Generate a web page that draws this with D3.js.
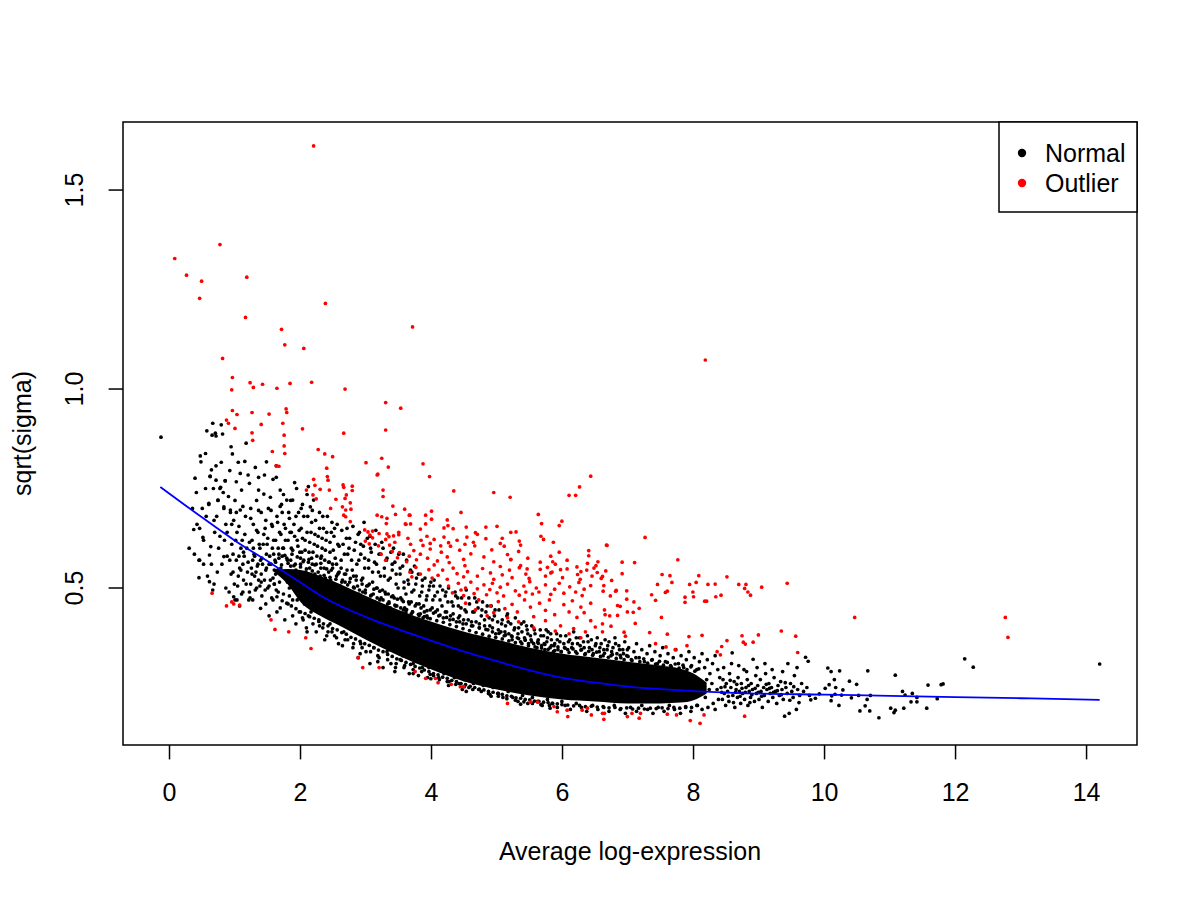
<!DOCTYPE html>
<html>
<head>
<meta charset="utf-8">
<title>sqrt(sigma) vs average log-expression</title>
<script src="https://cdn.jsdelivr.net/npm/d3@7"></script>
<style>
  body{ margin:0; background:#fff; }
  svg text{ font-family:"Liberation Sans", Arial, Helvetica, sans-serif; fill:#000; }
</style>
</head>
<body>
<svg id="chart" width="1200" height="900"></svg>
<script>
// ---- data ----
var xTicks = [0, 2, 4, 6, 8, 10, 12, 14];
var yTicks = [0.5, 1.0, 1.5];
var yTickLabels = ["0.5", "1.0", "1.5"];
var legendLabels = ["Normal", "Outlier"];

// fitted trend (blue)
var trendX = [-0.14, 0.5, 1.0, 1.5, 2.0, 2.35, 3.0, 3.5, 3.88, 4.5, 5.0, 5.5, 6.0, 6.5, 7.0, 7.5, 8.0, 8.72, 10.0, 11.0, 12.0, 13.0, 14.2];
var trendY = [0.754, 0.677, 0.619, 0.567, 0.514, 0.477, 0.427, 0.396, 0.374, 0.340, 0.316, 0.293, 0.274, 0.262, 0.252, 0.246, 0.241, 0.236, 0.232, 0.229, 0.226, 0.223, 0.219];

// envelope of the solid black core of the cloud
var coreX  = [1.6, 1.8, 2.0, 2.3, 2.6, 3.0, 3.5, 4.0, 4.5, 5.0, 5.5, 6.0, 6.5, 7.0, 7.5, 7.8, 8.0, 8.2];
var coreHi = [0.545, 0.548, 0.545, 0.53, 0.51, 0.48, 0.445, 0.415, 0.39, 0.37, 0.35, 0.335, 0.325, 0.315, 0.305, 0.297, 0.285, 0.262];
var coreLo = [0.54, 0.51, 0.465, 0.43, 0.405, 0.37, 0.33, 0.295, 0.265, 0.245, 0.23, 0.22, 0.215, 0.21, 0.21, 0.212, 0.218, 0.235];

// normal genes (black) around the core
var normalLeft = [[-0.13,0.879],[0.38,0.585],[0.42,0.66],[0.45,0.57],[0.47,0.832],[0.48,0.817],[0.50,0.70],[0.52,0.62],[0.55,0.838],[0.55,0.75],[0.57,0.895],[0.58,0.53],[0.60,0.71],[0.61,0.516],[0.62,0.78],[0.64,0.797],[0.65,0.884],[0.66,0.914],[0.66,0.495],[0.67,0.75],[0.68,0.51],[0.69,0.64],[0.70,0.889],[0.71,0.807],[0.71,0.882],[0.72,0.68],[0.74,0.72],[0.75,0.60],[0.77,0.75],[0.79,0.816],[0.79,0.91],[0.80,0.56],[0.81,0.887],[0.82,0.74],[0.83,0.70],[0.84,0.62],[0.85,0.77],[0.86,0.66],[0.88,0.58],[0.90,0.73],[0.92,0.795],[0.93,0.69],[0.94,0.855],[0.95,0.61],[0.96,0.837],[0.97,0.54],[0.98,0.67],[1.00,0.72],[1.02,0.767],[1.03,0.64],[1.05,0.816],[1.06,0.58],[1.08,0.788],[1.08,0.696],[1.10,0.746],[1.11,0.62],[1.13,0.52],[1.15,0.818],[1.16,0.68],[1.17,0.864],[1.18,0.60],[1.20,0.784],[1.21,0.47],[0.37,0.647],[0.46,0.650],[0.51,0.627],[0.63,0.604],[0.61,0.583],[0.83,0.579],[1.03,0.47],[0.98,0.478],[0.45,0.526],[0.52,0.56],[0.46,0.57],[0.39,0.776],[0.62,0.781],[0.71,0.771],[0.85,0.769],[0.60,0.713],[0.83,0.704],[0.93,0.696],[0.74,0.721],[0.78,0.753],[0.68,0.67],[0.56,0.68],[0.88,0.64],[0.77,0.63],[0.64,0.56],[0.73,0.54],[0.92,0.57],[1.07,0.55],[1.12,0.49],[0.99,0.51],[0.86,0.50],[0.30,0.60],[0.35,0.70],[0.41,0.74],[1.05,0.53],[1.12,0.56],[1.19,0.54],[1.24,0.51],[1.30,0.53],[1.35,0.56],[1.09,0.60],[1.14,0.58],[1.02,0.57],[1.27,0.57],[1.40,0.535],[1.45,0.52],[1.38,0.505],[1.48,0.55]];

var normalUpper = [[1.22,0.763],[1.24,0.70],[1.26,0.62],[1.28,0.66],[1.30,0.58],[1.31,0.803],[1.33,0.72],[1.35,0.64],[1.36,0.778],[1.36,0.746],[1.38,0.60],[1.40,0.69],[1.42,0.56],[1.44,0.736],[1.45,0.784],[1.46,0.65],[1.48,0.817],[1.49,0.61],[1.51,0.70],[1.53,0.58],[1.54,0.728],[1.56,0.66],[1.58,0.773],[1.59,0.62],[1.61,0.57],[1.63,0.778],[1.63,0.807],[1.64,0.68],[1.66,0.60],[1.68,0.64],[1.69,0.746],[1.71,0.71],[1.72,0.58],[1.74,0.735],[1.75,0.66],[1.77,0.62],[1.79,0.721],[1.80,0.57],[1.82,0.69],[1.84,0.64],[1.86,0.60],[1.88,0.721],[1.90,0.66],[1.92,0.56],[1.94,0.75],[1.95,0.62],[1.97,0.69],[1.99,0.59],[2.01,0.65],[2.03,0.71],[2.05,0.57],[2.07,0.62],[2.10,0.735],[2.11,0.68],[2.13,0.59],[2.15,0.704],[2.16,0.64],[2.18,0.56],[2.20,0.721],[2.21,0.61],[2.23,0.67],[2.25,0.58],[2.27,0.63],[2.29,0.69],[2.31,0.55],[2.33,0.60],[2.35,0.65],[2.37,0.57],[2.39,0.62],[2.41,0.68],[2.43,0.54],[2.45,0.59],[2.47,0.64],[2.49,0.56],
[1.25,0.55],[1.32,0.54],[1.39,0.57],[1.47,0.545],[1.55,0.56],[1.62,0.535],[1.70,0.55],[1.78,0.54],[1.85,0.555],[1.93,0.545],[2.00,0.56],[2.08,0.54],[2.14,0.55],[2.22,0.535],[2.30,0.53],[2.38,0.525],[2.46,0.52],[1.28,0.60],[1.43,0.61],[1.57,0.60],[1.73,0.60],[1.87,0.585],[2.02,0.59],[2.17,0.575],[2.32,0.58],[2.44,0.565],
[2.51,0.63],[2.53,0.575],[2.56,0.66],[2.57,0.535],[2.59,0.605],[2.62,0.55],[2.63,0.645],[2.64,0.52],[2.67,0.585],[2.70,0.625],[2.71,0.545],[2.74,0.60],[2.75,0.515],[2.78,0.57],[2.80,0.655],[2.81,0.53],[2.84,0.615],[2.86,0.56],[2.87,0.505],[2.90,0.64],[2.92,0.585],[2.93,0.52],[2.96,0.605],[2.98,0.55],[2.99,0.495],[3.02,0.625],[3.04,0.57],[3.05,0.51],[3.08,0.59],[3.10,0.54],[3.11,0.485],[3.14,0.61],[3.16,0.56],[3.17,0.50],[3.20,0.585],[3.22,0.53],[3.23,0.475],[3.26,0.60],[3.28,0.55],[3.29,0.49],[3.32,0.575],[3.34,0.52],[3.35,0.465],[3.38,0.59],[3.40,0.545],[3.41,0.48],[3.44,0.565],[3.46,0.51],[3.47,0.455],[3.50,0.585],[3.52,0.535],[3.53,0.475],[3.56,0.555],[3.58,0.50],[3.59,0.45],[3.62,0.57],[3.64,0.52],[3.65,0.465],[3.68,0.545],[3.70,0.49],[3.71,0.44],[3.74,0.555],[3.76,0.51],[3.77,0.46],[3.80,0.535],[3.82,0.48],[3.83,0.435],[3.86,0.505],[3.88,0.455],[3.90,0.525],[3.92,0.47],[3.93,0.43],[3.96,0.495],[3.98,0.445],[3.99,0.515],
[2.55,0.53],[2.68,0.515],[2.82,0.50],[2.95,0.49],[3.07,0.48],[3.21,0.47],[3.33,0.46],[3.45,0.455],[3.57,0.445],[3.69,0.435],[3.81,0.43],[3.94,0.425],[2.61,0.505],[2.89,0.485],[3.13,0.465],[3.37,0.45],[3.61,0.44],[3.87,0.425],
[4.02,0.47],[4.04,0.52],[4.06,0.44],[4.09,0.49],[4.11,0.43],[4.13,0.505],[4.16,0.455],[4.18,0.425],[4.21,0.48],[4.23,0.44],[4.26,0.50],[4.28,0.42],[4.31,0.465],[4.33,0.435],[4.36,0.49],[4.38,0.415],[4.41,0.455],[4.43,0.43],[4.46,0.475],[4.48,0.41],[4.51,0.445],[4.53,0.495],[4.56,0.42],[4.58,0.46],[4.61,0.405],[4.63,0.44],[4.66,0.475],[4.68,0.415],[4.71,0.45],[4.73,0.40],[4.76,0.43],[4.78,0.465],[4.81,0.405],[4.83,0.44],[4.86,0.395],[4.88,0.425],[4.91,0.455],[4.93,0.40],[4.96,0.43],[4.98,0.385],[5.01,0.415],[5.03,0.445],[5.06,0.39],[5.08,0.42],[5.11,0.38],[5.13,0.405],[5.16,0.435],[5.18,0.385],[5.21,0.41],[5.23,0.37],[5.26,0.395],[5.28,0.425],[5.31,0.375],[5.33,0.40],[5.36,0.365],[5.38,0.39],[5.41,0.415],[5.43,0.37],[5.46,0.395],[5.48,0.36],[5.51,0.38],[5.53,0.405],[5.56,0.36],[5.58,0.385],[5.61,0.35],[5.63,0.37],[5.66,0.395],[5.68,0.355],[5.71,0.38],[5.73,0.345],[5.76,0.365],[5.78,0.39],[5.81,0.35],[5.83,0.37],[5.86,0.34],[5.88,0.36],[5.91,0.385],[5.93,0.345],[5.96,0.365],[5.98,0.34],
[6.02,0.36],[6.05,0.38],[6.08,0.345],[6.11,0.37],[6.14,0.35],[6.17,0.39],[6.20,0.34],[6.23,0.36],[6.26,0.375],[6.29,0.345],[6.32,0.365],[6.35,0.335],[6.38,0.38],[6.41,0.35],[6.44,0.37],[6.47,0.335],[6.50,0.355],[6.53,0.375],[6.56,0.34],[6.59,0.36],[6.62,0.33],[6.65,0.37],[6.68,0.345],[6.71,0.365],[6.74,0.33],[6.77,0.35],[6.80,0.375],[6.83,0.335],[6.86,0.355],[6.89,0.325],[6.92,0.345],[6.95,0.365],[6.98,0.33],[7.01,0.35],[7.05,0.32],[7.09,0.34],[7.13,0.36],[7.17,0.325],[7.21,0.345],[7.25,0.315],[7.29,0.335],[7.33,0.355],[7.37,0.32],[7.41,0.34],[7.45,0.31],[7.49,0.33],[7.53,0.35],[7.57,0.315],[7.61,0.335],[7.65,0.305],[7.69,0.325],[7.73,0.345],[7.77,0.31],[7.81,0.33],[7.85,0.30],[7.89,0.32],[7.93,0.34],[7.97,0.305],[8.01,0.325],[8.05,0.295],[8.09,0.315],[8.13,0.335],[8.17,0.30],[8.21,0.32],[8.25,0.285],[8.29,0.31],[8.33,0.33],[8.37,0.295],[8.40,0.275]];

// extra black points filling the densest speckled zones
var normalFill = [[0.91,0.49],[0.94,0.535],[0.97,0.585],[1.00,0.47],[1.01,0.62],[1.04,0.505],[1.06,0.655],[1.09,0.545],[1.10,0.485],[1.13,0.59],[1.15,0.635],[1.17,0.51],[1.20,0.565],[1.22,0.615],[1.23,0.475],[1.26,0.535],[1.29,0.585],[1.31,0.495],[1.33,0.645],[1.34,0.555],[1.37,0.61],[1.40,0.515],[1.41,0.575],[1.44,0.635],[1.46,0.495],[1.48,0.585],[1.50,0.625],[1.52,0.56],[1.54,0.52],[1.57,0.655],[1.59,0.585],[1.60,0.545],[0.95,0.66],[1.02,0.69],[1.12,0.705],[1.24,0.675],[1.36,0.695],[1.47,0.67],[1.55,0.695],[1.07,0.455],
[1.52,0.505],[1.58,0.525],[1.63,0.495],[1.68,0.515],[1.74,0.485],[1.77,0.53],[1.83,0.50],[1.88,0.47],[1.91,0.515],[1.56,0.475],[1.71,0.54],[1.86,0.53],[1.65,0.545],[1.80,0.515],[1.95,0.50],[1.60,0.51],
[1.62,0.62],[1.65,0.665],[1.67,0.585],[1.70,0.635],[1.72,0.69],[1.74,0.60],[1.77,0.65],[1.79,0.575],[1.81,0.62],[1.83,0.675],[1.86,0.64],[1.88,0.595],[1.91,0.63],[1.93,0.68],[1.96,0.605],[1.98,0.645],[2.00,0.575],[2.03,0.625],[2.05,0.68],[2.07,0.595],[2.10,0.64],[2.12,0.565],[2.14,0.615],[2.17,0.665],[2.19,0.59],[2.22,0.635],[2.24,0.56],[2.26,0.605],[2.29,0.65],[2.31,0.575],[2.33,0.625],[2.36,0.55],[2.38,0.595],[2.40,0.64],[2.43,0.565],[2.45,0.615],[2.47,0.545],[2.50,0.595],[2.52,0.65],[2.55,0.56],[2.57,0.61],[2.59,0.54],[1.69,0.705],[1.85,0.72],[2.01,0.70],[2.18,0.695],[2.34,0.68],[2.48,0.665],[1.91,0.765],[2.12,0.755],
[2.62,0.57],[2.65,0.61],[2.69,0.535],[2.72,0.585],[2.75,0.625],[2.79,0.545],[2.82,0.595],[2.85,0.53],[2.89,0.57],[2.92,0.61],[2.95,0.525],[2.98,0.575],[3.01,0.505],[3.04,0.55],[3.07,0.60],[3.10,0.515],[3.13,0.565],[3.16,0.50],[3.19,0.54],[3.22,0.585],[3.25,0.495],[3.28,0.53],[3.31,0.57],[3.34,0.485],[3.37,0.525],[3.40,0.56],[3.43,0.475],[3.46,0.535],[3.49,0.50],[3.52,0.55],[3.55,0.47],[3.58,0.515],[2.71,0.65],[2.88,0.635],[3.06,0.63],[3.24,0.615],[3.42,0.60],[3.57,0.585],[2.97,0.665],[3.15,0.645],
[3.61,0.485],[3.65,0.51],[3.69,0.465],[3.73,0.495],[3.77,0.525],[3.81,0.46],[3.85,0.49],[3.89,0.44],[3.93,0.48],[3.97,0.505],[4.01,0.45],[4.05,0.48],[4.09,0.445],[4.13,0.47],[4.17,0.495],[4.21,0.44],[4.25,0.465],[4.29,0.43],[4.33,0.455],[4.37,0.48],[4.41,0.425],[4.45,0.45],[4.49,0.42],[4.53,0.44],[4.57,0.475],[4.61,0.415],[4.65,0.44],[4.69,0.465],[4.73,0.41],[4.77,0.445],[4.81,0.42],[4.85,0.455],[4.89,0.405],[4.93,0.42],[4.97,0.445],[3.70,0.54],[3.86,0.52],[4.03,0.505],[4.22,0.49],[4.40,0.475],
[5.02,0.395],[5.07,0.41],[5.12,0.39],[5.17,0.415],[5.22,0.38],[5.27,0.40],[5.32,0.385],[5.37,0.41],[5.42,0.375],[5.47,0.385],[5.52,0.37],[5.57,0.395],[5.62,0.365],[5.67,0.38],[5.72,0.36],[5.77,0.375],[5.82,0.385],[5.87,0.355],[5.92,0.37],[5.97,0.38],[6.03,0.35],[6.09,0.365],[6.15,0.36],[6.21,0.375],[6.27,0.355],[6.33,0.35],[6.39,0.365],[6.45,0.345],[6.51,0.36],[6.57,0.35],[6.63,0.345],[6.69,0.355],[6.75,0.34],[6.81,0.36],[6.87,0.345],[6.93,0.335],[6.99,0.345],[5.15,0.43],[5.45,0.405],[5.75,0.395],
[2.03,0.425],[2.16,0.44],[2.29,0.405],[2.42,0.39],[2.55,0.375],[2.68,0.37],[2.81,0.36],[2.94,0.35],[3.07,0.34],[3.20,0.325],[3.33,0.32],[3.46,0.31],[3.59,0.305],[3.72,0.295],[3.85,0.29],[3.98,0.283],[4.11,0.275],[4.24,0.265],[4.37,0.258],[4.50,0.252],[4.63,0.245],[4.76,0.24],[4.89,0.233],[5.02,0.228],[5.15,0.222],[5.28,0.218],[5.41,0.214],[5.54,0.21],[5.67,0.207],[5.80,0.205],[2.10,0.39],[2.37,0.37],[2.64,0.355],[2.91,0.335],[3.18,0.315],[3.45,0.30],[3.72,0.285],[3.99,0.272],[4.26,0.255],[4.53,0.24]];

// points that hug the upper and lower edge of the core
var normalEdgeUp = [[1.62,0.565],[1.67,0.575],[1.71,0.558],[1.76,0.582],[1.81,0.562],[1.85,0.57],[1.90,0.556],[1.95,0.578],[2.00,0.553],[2.04,0.566],[2.09,0.548],[2.13,0.572],[2.18,0.543],[2.22,0.558],[2.27,0.54],[2.31,0.562],[2.36,0.532],[2.40,0.548],[2.45,0.527],[2.49,0.55],[2.54,0.522],[2.58,0.538],[2.63,0.515],[2.67,0.535],[2.72,0.508],[2.76,0.524],[2.81,0.502],[2.85,0.52],[2.90,0.495],[2.94,0.51],[2.99,0.488],[3.03,0.506],[3.08,0.482],[3.12,0.497],[3.17,0.475],[3.21,0.492],[3.26,0.47],[3.30,0.485],[3.35,0.462],[3.39,0.478],[3.44,0.457],[3.48,0.472],[3.53,0.45],[3.57,0.466],[3.62,0.446],[3.66,0.46],[3.71,0.44],[3.75,0.455],[3.80,0.434],[3.84,0.45],[3.89,0.428],[3.93,0.443],[3.98,0.423],[4.03,0.437],[4.08,0.418],[4.13,0.432],[4.18,0.414],[4.23,0.426],[4.28,0.408],[4.33,0.421],[4.38,0.403],[4.43,0.415],[4.48,0.398],[4.53,0.41],[4.58,0.393],[4.63,0.405],[4.68,0.388],[4.73,0.40],[4.78,0.384],[4.83,0.396],[4.88,0.379],[4.93,0.39],[4.98,0.376],[5.03,0.386],[5.08,0.372],[5.13,0.382],[5.18,0.367],[5.23,0.378],[5.28,0.363],[5.33,0.373],[5.38,0.36],[5.43,0.369],[5.48,0.355],[5.53,0.365],[5.58,0.352],[5.63,0.361],[5.68,0.349],[5.73,0.358],[5.78,0.346],[5.83,0.355],[5.88,0.343],[5.93,0.352],[5.98,0.34],[6.04,0.349],[6.10,0.338],[6.16,0.347],[6.22,0.336],[6.28,0.344],[6.34,0.333],[6.40,0.341],[6.46,0.331],[6.52,0.339],[6.58,0.328],[6.64,0.336],[6.70,0.326],[6.76,0.333],[6.82,0.323],[6.88,0.331],[6.94,0.32],[7.00,0.328],[7.06,0.318],[7.12,0.325],[7.18,0.315],[7.24,0.322],[7.30,0.311],[7.36,0.319],[7.42,0.309],[7.48,0.316],[7.54,0.306],[7.60,0.313],[7.66,0.302],[7.72,0.309],[7.78,0.299],[7.84,0.306],[7.90,0.295],[7.96,0.302],[8.02,0.291],[8.08,0.297]];

var normalEdgeLow = [[1.64,0.478],[1.72,0.468],[1.79,0.462],[1.86,0.455],[1.93,0.448],[2.00,0.44],[2.07,0.436],[2.14,0.428],[2.21,0.424],[2.28,0.416],[2.35,0.41],[2.42,0.405],[2.49,0.398],[2.56,0.395],[2.63,0.388],[2.70,0.384],[2.77,0.376],[2.84,0.372],[2.91,0.366],[2.98,0.36],[3.05,0.356],[3.12,0.35],[3.19,0.344],[3.26,0.34],[3.33,0.333],[3.40,0.328],[3.47,0.322],[3.54,0.318],[3.61,0.313],[3.68,0.308],[3.75,0.303],[3.82,0.299],[3.89,0.294],[3.96,0.29],[4.03,0.285],[4.10,0.282],[4.17,0.276],[4.24,0.273],[4.31,0.268],[4.38,0.265],[4.45,0.26],[4.52,0.257],[4.59,0.253],[4.66,0.25],[4.73,0.246],[4.80,0.244],[4.87,0.24],[4.94,0.238],[5.01,0.235],[5.08,0.233],[5.15,0.229],[5.22,0.228],[5.29,0.224],[5.36,0.223],[5.43,0.22],[5.50,0.219],[5.57,0.216],[5.64,0.215],[5.71,0.213],[5.78,0.212],[5.85,0.21],[5.92,0.209],[5.99,0.207],[6.08,0.206],[6.17,0.204],[6.26,0.205],[6.35,0.202],[6.44,0.203],[6.53,0.201],[6.62,0.202],[6.71,0.199],[6.80,0.20],[6.89,0.197],[6.98,0.199],[7.07,0.196],[7.16,0.198],[7.25,0.196],[7.34,0.198],[7.43,0.197],[7.52,0.199],[7.61,0.197],[7.70,0.20],[7.79,0.198],[7.88,0.202],[7.97,0.20],[8.06,0.205]];

var normalLower = [[1.22,0.49],[1.27,0.47],[1.33,0.50],[1.39,0.449],[1.41,0.48],[1.47,0.46],[1.52,0.43],[1.58,0.47],[1.64,0.44],[1.69,0.45],[1.76,0.42],[1.81,0.46],[1.88,0.43],[1.93,0.41],[1.98,0.44],[2.04,0.42],[2.09,0.40],[2.12,0.43],[2.19,0.41],[2.24,0.39],[2.28,0.42],[2.34,0.40],[2.40,0.38],[2.45,0.41],[2.48,0.39],[1.36,0.52],[1.50,0.50],[1.66,0.49],[1.83,0.48],[2.06,0.46],[2.26,0.45],[1.60,0.51],[1.95,0.47],
[2.52,0.38],[2.58,0.36],[2.66,0.39],[2.72,0.37],[2.80,0.35],[2.88,0.325],[2.92,0.36],[3.00,0.34],[3.06,0.31],[3.12,0.35],[3.18,0.33],[3.26,0.30],[3.32,0.34],[3.38,0.31],[3.44,0.29],[3.52,0.32],[3.58,0.30],[3.66,0.285],[3.72,0.31],[3.80,0.28],[3.86,0.30],[3.94,0.275],[2.62,0.41],[2.76,0.40],[2.96,0.38],[3.14,0.37],[3.36,0.345],[3.56,0.33],[3.76,0.32],[3.96,0.30],
[4.03,0.28],[4.12,0.27],[4.19,0.285],[4.27,0.265],[4.35,0.275],[4.42,0.26],[4.50,0.27],[4.57,0.25],[4.64,0.26],[4.72,0.245],[4.79,0.255],[4.87,0.235],[4.94,0.25],[5.02,0.235],[5.09,0.225],[5.17,0.24],[5.24,0.225],[5.32,0.215],[5.39,0.23],[5.47,0.21],[5.54,0.225],[5.62,0.215],[5.69,0.205],[5.77,0.22],[5.84,0.21],[5.92,0.20],[5.99,0.215],[4.47,0.245],[4.91,0.228],[5.36,0.208],[5.81,0.198],
[6.04,0.205],[6.12,0.195],[6.21,0.21],[6.29,0.20],[6.37,0.19],[6.46,0.205],[6.54,0.195],[6.63,0.20],[6.71,0.19],[6.79,0.205],[6.88,0.195],[6.96,0.185],[7.04,0.20],[7.13,0.19],[7.21,0.205],[7.30,0.195],[7.38,0.185],[7.46,0.20],[7.55,0.19],[7.63,0.205],[7.71,0.195],[7.80,0.185],[7.88,0.20],[7.96,0.19],[8.05,0.205],[8.13,0.195],[8.22,0.20],[8.30,0.21],[8.38,0.22],[8.36,0.245],[8.28,0.26],[8.33,0.195],[8.18,0.225],[8.24,0.245],[8.12,0.255],[8.20,0.27]];

var normalTail = [[8.42,0.25],[8.44,0.22],[8.45,0.27],[8.47,0.235],[8.49,0.205],[8.50,0.26],[8.52,0.24],[8.54,0.215],[8.55,0.285],[8.57,0.25],[8.59,0.337],[8.60,0.23],[8.62,0.265],[8.63,0.20],[8.65,0.245],[8.67,0.225],[8.68,0.275],[8.70,0.24],[8.72,0.21],[8.73,0.26],[8.75,0.235],[8.77,0.295],[8.78,0.22],[8.80,0.25],[8.82,0.27],[8.83,0.205],[8.85,0.24],[8.87,0.225],[8.88,0.26],[8.90,0.245],[8.91,0.321],[8.93,0.215],[8.95,0.28],[8.96,0.235],[8.98,0.255],[9.00,0.22],[9.02,0.27],[9.03,0.24],[9.05,0.20],[9.07,0.25],[9.08,0.23],[9.10,0.285],[9.12,0.245],[9.14,0.215],[9.15,0.26],[9.17,0.235],[9.19,0.25],[9.21,0.225],[9.23,0.275],[9.25,0.24],[9.27,0.21],[9.29,0.255],[9.31,0.23],[9.33,0.265],[9.35,0.245],[9.37,0.22],[9.39,0.178],[9.41,0.25],[9.43,0.235],[9.46,0.185],[9.48,0.26],[9.50,0.24],[9.52,0.225],[9.54,0.28],[9.57,0.195],[9.59,0.245],[9.62,0.23],[9.65,0.26],[9.68,0.24],[9.71,0.326],[9.75,0.316],[9.73,0.25],[9.77,0.23],[8.46,0.30],[8.58,0.31],[8.69,0.305],[8.81,0.29],[8.97,0.30],[9.09,0.31],[9.20,0.295],[9.36,0.29],[9.44,0.31],[9.58,0.30],
[8.43,0.238],[8.48,0.252],[8.53,0.228],[8.56,0.268],[8.61,0.212],[8.64,0.238],[8.66,0.258],[8.71,0.228],[8.74,0.248],[8.79,0.238],[8.84,0.255],[8.86,0.212],[8.89,0.232],[8.94,0.248],[8.99,0.238],[9.04,0.228],[9.11,0.258],[9.16,0.248],[9.22,0.238],[9.28,0.242],[9.34,0.232],[9.40,0.262],[9.47,0.218],[9.53,0.252],[9.61,0.212],
[10.05,0.299],[10.23,0.292],[10.10,0.290],[10.66,0.292],[11.08,0.281],[12.14,0.322],[12.27,0.301],[14.20,0.309],[11.58,0.256],[11.78,0.257],[11.81,0.259],[11.19,0.240],[11.34,0.235],[11.23,0.231],[11.32,0.214],[11.41,0.225],[11.41,0.214],[11.72,0.222],[11.56,0.198],[11.01,0.198],[11.08,0.193],[11.06,0.187],[11.21,0.198],[10.83,0.174],[10.54,0.191],[10.69,0.191],[10.62,0.204],[10.65,0.220],[10.70,0.230],[10.52,0.230],[10.41,0.224],[10.22,0.205],[10.26,0.231],[10.16,0.233],[10.11,0.229],[10.10,0.217],[10.07,0.257],[10.01,0.248],[9.92,0.234],[9.86,0.223],[9.79,0.219],[10.38,0.266],[10.49,0.258],[10.28,0.244],[10.17,0.250],[10.15,0.270]];

// outliers (red)
var outlierTop = [[2.20,1.611],[0.77,1.363],[0.08,1.328],[0.26,1.286],[0.49,1.271],[1.18,1.281],[0.46,1.228],[2.38,1.215],[1.16,1.180],[3.71,1.156],[1.71,1.150],[1.76,1.111],[2.05,1.102],[0.81,1.077],[0.96,1.029],[1.23,1.016],[0.95,0.998],[1.28,1.004],[1.42,1.012],[1.64,1.002],[1.84,1.014],[2.17,1.017],[2.68,1.000],[3.30,0.966],[3.53,0.952],[0.96,0.946],[1.03,0.936],[1.26,0.941],[1.52,0.937],[1.78,0.950],[1.79,0.941],[0.87,0.922],[8.18,1.073],
[0.90,0.914],[1.00,0.901],[1.40,0.911],[1.73,0.914],[2.03,0.900],[1.26,0.890],[1.27,0.871],[1.75,0.884],[1.75,0.857],[1.57,0.843],[1.76,0.838],[2.66,0.889],[3.30,0.897],[2.27,0.848],[2.37,0.837],[2.49,0.830],[3.24,0.826],[3.00,0.815],[3.34,0.804],[1.63,0.807],[1.67,0.806],[2.40,0.801],[3.18,0.786],[2.41,0.780],[2.20,0.773],[2.42,0.771],[2.65,0.759],[2.66,0.753],[2.22,0.758],[2.09,0.746],[2.30,0.748],[2.44,0.746],[2.79,0.756],[2.79,0.745],[3.26,0.746],[3.26,0.730],[3.87,0.812],[2.19,0.734],[2.54,0.723],[2.70,0.734],[2.68,0.725],[2.24,0.724],[2.46,0.700],[2.64,0.704],[2.69,0.696],[2.76,0.714],[2.77,0.698],[2.66,0.683],[2.69,0.679],[3.41,0.706],[3.59,0.698],[2.76,0.667],
[3.97,0.780],[4.34,0.744],[4.95,0.740],[5.20,0.728],[6.43,0.781],[6.26,0.754],[6.10,0.733],[6.20,0.733],[4.00,0.693],[4.45,0.690],[5.63,0.685],[5.68,0.662],[5.95,0.657],[5.99,0.668],[3.17,0.784],[10.46,0.426],[12.76,0.426],[12.80,0.376]];

var outlierBand = [[3.91,0.683],[4.00,0.673],[3.67,0.683],[3.68,0.661],[3.61,0.660],[3.91,0.661],[4.24,0.671],[4.25,0.657],[4.19,0.651],[4.33,0.649],[4.53,0.653],[4.67,0.639],[4.70,0.635],[4.83,0.653],[5.00,0.655],[5.21,0.640],[5.29,0.641],[3.17,0.683],[3.24,0.679],[3.32,0.675],[3.45,0.685],[3.66,0.683],[3.31,0.662],[3.60,0.661],[2.98,0.646],[3.03,0.641],[3.06,0.633],[3.10,0.643],[3.20,0.637],[3.32,0.636],[3.35,0.629],[3.42,0.631],[3.50,0.634],[3.83,0.648],
[2.99,0.618],[3.05,0.611],[3.10,0.626],[3.19,0.606],[3.30,0.622],[3.36,0.608],[3.44,0.615],[3.50,0.640],[3.64,0.625],[3.68,0.610],[3.84,0.620],[3.87,0.607],[3.93,0.630],[3.98,0.612],[4.04,0.622],[4.14,0.606],[4.19,0.628],[4.26,0.614],[4.29,0.605],[4.39,0.620],[4.51,0.610],[4.54,0.628],[4.64,0.615],[4.66,0.606],[4.83,0.624],[5.05,0.612],[5.08,0.625],[5.11,0.605],[5.34,0.618],[5.36,0.608],[5.67,0.630],[5.71,0.622],[5.86,0.615],[6.67,0.608],
[3.23,0.585],[3.30,0.570],[3.40,0.592],[3.48,0.576],[3.51,0.589],[3.62,0.566],[3.66,0.580],[3.73,0.594],[3.77,0.571],[3.83,0.585],[3.94,0.575],[3.98,0.598],[4.09,0.568],[4.15,0.590],[4.24,0.578],[4.27,0.564],[4.43,0.595],[4.49,0.572],[4.60,0.586],[4.80,0.578],[4.92,0.596],[4.95,0.566],[5.16,0.584],[5.21,0.571],[5.33,0.592],[5.47,0.575],[5.82,0.580],[5.85,0.566],[5.95,0.590],[6.40,0.594],[6.51,0.556],[6.54,0.566],[6.40,0.581],
[3.67,0.540],[3.70,0.528],[3.76,0.552],[3.83,0.535],[3.96,0.546],[4.01,0.525],[4.04,0.558],[4.10,0.532],[4.17,0.545],[4.24,0.522],[4.33,0.550],[4.39,0.536],[4.49,0.528],[4.51,0.556],[4.55,0.541],[4.70,0.530],[4.78,0.549],[4.90,0.538],[4.95,0.522],[5.05,0.554],[5.08,0.533],[5.19,0.545],[5.23,0.526],[5.34,0.551],[5.44,0.535],[5.49,0.524],[5.66,0.547],[5.74,0.530],[5.82,0.538],[6.00,0.526],[6.07,0.548],[6.23,0.534],[6.27,0.522],[6.37,0.545],[6.45,0.530],[6.53,0.539],[6.59,0.524],[6.66,0.543],[6.91,0.536],
[4.26,0.505],[4.32,0.488],[4.41,0.512],[4.45,0.495],[4.49,0.481],[4.52,0.500],[4.60,0.515],[4.65,0.486],[4.70,0.498],[4.80,0.508],[4.84,0.483],[4.89,0.496],[4.93,0.512],[5.00,0.488],[5.05,0.502],[5.10,0.480],[5.16,0.510],[5.28,0.493],[5.34,0.482],[5.41,0.505],[5.44,0.490],[5.50,0.516],[5.54,0.485],[5.60,0.500],[5.64,0.490],[5.74,0.508],[5.82,0.484],[5.88,0.497],[5.95,0.512],[6.02,0.487],[6.11,0.503],[6.20,0.490],[6.25,0.514],[6.30,0.481],[6.33,0.497],[6.43,0.506],[6.62,0.492],[6.73,0.480],[6.82,0.494],[6.98,0.493],[6.98,0.472],
[4.52,0.462],[4.67,0.445],[4.72,0.470],[4.85,0.430],[4.90,0.455],[4.95,0.438],[5.02,0.466],[5.12,0.448],[5.16,0.425],[5.23,0.459],[5.31,0.440],[5.42,0.470],[5.51,0.452],[5.56,0.428],[5.65,0.462],[5.74,0.444],[5.80,0.470],[5.88,0.433],[6.02,0.458],[6.10,0.440],[6.15,0.468],[6.22,0.426],[6.28,0.452],[6.33,0.438],[6.43,0.462],[6.64,0.445],[6.72,0.430],[6.84,0.456],[6.99,0.440],
[5.21,0.572],[5.36,0.556],[5.46,0.548],[5.66,0.565],[5.77,0.552],[5.84,0.540],[5.89,0.560],[5.97,0.546],[6.07,0.570],[6.22,0.553],[6.28,0.541],[6.38,0.562],[6.48,0.550],[6.91,0.565],
[7.26,0.627],[7.10,0.564],[7.76,0.571],[9.04,0.502],[9.43,0.512],[8.69,0.509],[8.80,0.509],[8.78,0.499],[8.83,0.490],[8.87,0.482],[8.51,0.528],[8.08,0.531],[8.33,0.510],[8.22,0.509],[8.04,0.514],[7.94,0.509],[7.99,0.490],[8.00,0.478],[8.34,0.478],[8.42,0.482],[8.17,0.467],[8.20,0.467],[7.87,0.477],[7.87,0.464],[7.52,0.534],[7.64,0.531],[7.67,0.514],[7.60,0.492],[7.57,0.489],[7.45,0.509],[7.36,0.483],[7.42,0.469],[7.51,0.426],[7.17,0.449],[7.08,0.439],[7.09,0.465],[7.11,0.411],[7.33,0.388],[7.60,0.384],[7.93,0.378],[8.13,0.381],[8.74,0.380],[8.99,0.382],[9.34,0.392],[9.56,0.379],[6.68,0.607],[6.61,0.529],[6.75,0.519],[6.63,0.506],[6.81,0.492],[6.88,0.454],[6.84,0.431],[6.65,0.433],[6.74,0.404],[6.61,0.410],[6.61,0.390],[6.94,0.389],[6.96,0.379],
[5.33,0.415],[5.74,0.418],[6.43,0.418],[5.56,0.400],[5.89,0.392],[5.97,0.405],[6.10,0.385],[6.17,0.398],[6.28,0.375],[6.35,0.390],[6.50,0.402],[7.42,0.360],[7.58,0.352],[7.72,0.345],[7.90,0.355],[8.36,0.340],[8.41,0.332],[8.51,0.368],[8.76,0.364],[8.79,0.359],[8.91,0.364],[8.43,0.353],[9.59,0.338]];

var outlierLow = [[0.65,0.487],[0.87,0.455],[0.95,0.465],[0.98,0.460],[1.07,0.457],[1.55,0.420],[1.61,0.396],[1.82,0.390],[2.08,0.375],[2.16,0.348],[2.88,0.325],[2.95,0.30],[3.20,0.30],[3.75,0.29],[3.91,0.273],[4.06,0.273],[4.10,0.262],[4.30,0.258],[4.44,0.252],[4.49,0.252],[5.16,0.210],[5.51,0.213],[5.62,0.213],[5.87,0.202],[5.92,0.189],[6.07,0.193],[6.08,0.177],[6.30,0.193],[6.38,0.198],[6.44,0.181],[6.61,0.185],[6.63,0.170],[6.64,0.185],[6.99,0.177],[7.06,0.185],[7.17,0.173],[7.19,0.185],[7.60,0.183],[7.74,0.181],[7.95,0.167],[8.10,0.160],[8.16,0.181],[8.78,0.178]];

// ---- drawing ----
var svg = d3.select("#chart");
var pLeft = 123, pRight = 1137, pTop = 122, pBottom = 745;
var dotR = 1.85;

var x = d3.scaleLinear().domain([-0.71, 14.77]).range([pLeft, pRight]);
var y = d3.scaleLinear().domain([0.1055, 1.671]).range([pBottom, pTop]);

var plot = svg.append("g");

// solid core
var coreData = coreX.map(function(d, i){ return [d, coreLo[i], coreHi[i]]; });
plot.append("path")
    .datum(coreData)
    .attr("fill", "#000")
    .attr("d", d3.area()
        .curve(d3.curveMonotoneX)
        .x(function(d){ return x(d[0]); })
        .y0(function(d){ return y(d[1]); })
        .y1(function(d){ return y(d[2]); }));

var normal = normalLeft.concat(normalUpper, normalFill, normalEdgeUp, normalEdgeLow, normalLower, normalTail);
var outlier = outlierTop.concat(outlierBand, outlierLow);

plot.selectAll(".n")
    .data(normal)
    .enter()
    .append("circle")
    .attr("class", "n")
    .attr("cx", function(d){ return x(d[0]); })
    .attr("cy", function(d){ return y(d[1]); })
    .attr("r", dotR)
    .attr("fill", "#000");

plot.selectAll(".o")
    .data(outlier)
    .enter()
    .append("circle")
    .attr("class", "o")
    .attr("cx", function(d){ return x(d[0]); })
    .attr("cy", function(d){ return y(d[1]); })
    .attr("r", dotR)
    .attr("fill", "#ff0000");

// trend line
var trend = trendX.map(function(d, i){ return [d, trendY[i]]; });
plot.append("path")
    .datum(trend)
    .attr("fill", "none")
    .attr("stroke", "#0000ff")
    .attr("stroke-width", 1.8)
    .attr("d", d3.line()
        .curve(d3.curveMonotoneX)
        .x(function(d){ return x(d[0]); })
        .y(function(d){ return y(d[1]); }));

// box
svg.append("rect")
    .attr("x", pLeft).attr("y", pTop)
    .attr("width", pRight - pLeft).attr("height", pBottom - pTop)
    .attr("fill", "none").attr("stroke", "#000").attr("stroke-width", 1.5);

// x axis (R style)
var tick = 14.4;
svg.selectAll(".xt")
    .data(xTicks)
    .enter()
    .append("line")
    .attr("x1", function(d){ return x(d); }).attr("x2", function(d){ return x(d); })
    .attr("y1", pBottom).attr("y2", pBottom + tick)
    .attr("stroke", "#000").attr("stroke-width", 1.5);
svg.selectAll(".xl")
    .data(xTicks)
    .enter()
    .append("text")
    .attr("x", function(d){ return x(d); })
    .attr("y", 801)
    .attr("text-anchor", "middle")
    .style("font-size", "25px")
    .text(function(d){ return d; });

// y axis
svg.selectAll(".yt")
    .data(yTicks)
    .enter()
    .append("line")
    .attr("x1", pLeft - tick).attr("x2", pLeft)
    .attr("y1", function(d){ return y(d); }).attr("y2", function(d){ return y(d); })
    .attr("stroke", "#000").attr("stroke-width", 1.5);
svg.selectAll(".yl")
    .data(yTicks)
    .enter()
    .append("text")
    .attr("transform", function(d){ return "translate(83," + y(d) + ") rotate(-90)"; })
    .attr("text-anchor", "middle")
    .style("font-size", "25px")
    .text(function(d, i){ return yTickLabels[i]; });

// axis titles
svg.append("text")
    .attr("x", (pLeft + pRight) / 2).attr("y", 860)
    .attr("text-anchor", "middle")
    .style("font-size", "25px")
    .text("Average log-expression");
svg.append("text")
    .attr("transform", "translate(31," + ((pTop + pBottom) / 2) + ") rotate(-90)")
    .attr("text-anchor", "middle")
    .style("font-size", "25px")
    .text("sqrt(sigma)");

// legend
var leg = svg.append("g");
leg.append("rect")
    .attr("x", 999).attr("y", pTop)
    .attr("width", pRight - 999).attr("height", 90)
    .attr("fill", "#fff").attr("stroke", "#000").attr("stroke-width", 1.5);
var legColors = ["#000", "#ff0000"];
leg.selectAll(".lp")
    .data(legendLabels)
    .enter()
    .append("circle")
    .attr("cx", 1022)
    .attr("cy", function(d, i){ return 153 + i * 30; })
    .attr("r", 4.2)
    .attr("fill", function(d, i){ return legColors[i]; });
leg.selectAll(".lt")
    .data(legendLabels)
    .enter()
    .append("text")
    .attr("x", 1045)
    .attr("y", function(d, i){ return 162 + i * 30; })
    .style("font-size", "25px")
    .text(function(d){ return d; });
</script>
</body>
</html>
